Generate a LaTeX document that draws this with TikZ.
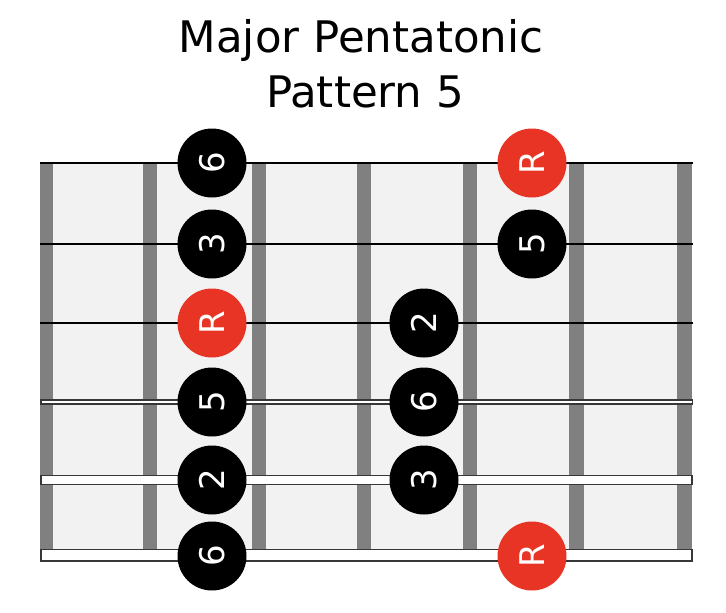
\documentclass[tikz,border=0pt]{standalone}
\usepackage{fontspec}
\setmainfont{DejaVu Sans}
\definecolor{rootred}{RGB}{232,52,36}
\definecolor{board}{RGB}{242,242,242}
\definecolor{fretgray}{RGB}{128,128,128}
\definecolor{strdark}{RGB}{55,55,55}
\begin{document}
\begin{tikzpicture}[x=1pt,y=-1pt,
  note/.style={circle, fill=black, minimum size=69pt, inner sep=0pt, text=white,
    font=\fontsize{34}{34}\selectfont, rotate=90},
  root/.style={note, fill=rootred},
  titletext/.style={anchor=base, inner sep=0pt, font=\fontsize{43.5}{43.5}\selectfont},
  thinstring/.style={line width=2pt, black},
  fretbar/.style={fill=fretgray}]
\useasboundingbox (0,0) rectangle (726,613);
% title
\node[titletext] (t1) at (361,52) {Major Pentatonic};
\node[titletext] (t2) at (365,107) {Pattern 5};
% board
\fill[board] (40,163) rectangle (692,555);
\foreach \a/\b in {40/53,143/157,252/266,357/371,463/477,569/584,677/692}
  \fill[fretbar] (\a,163) rectangle (\b,555);
% strings
\draw[thinstring] (40,163) -- (693,163);
\draw[thinstring] (40,244) -- (693,244);
\draw[thinstring] (40,323) -- (693,323);
\draw[strdark, line width=5.5pt] (40,402) -- (693,402);
\draw[white, line width=2pt] (41.5,402) -- (691.5,402);
\filldraw[fill=white, draw=strdark, line width=1.6pt] (40.8,475.5) rectangle (692.2,484.5);
\filldraw[fill=white, draw=strdark, line width=1.8pt] (40.9,549.5) rectangle (692.1,561);
% notes
\node[note] (a1) at (212,163) {6};
\node[note] (a2) at (212,244) {3};
\node[root] (a3) at (212,323) {R};
\node[note] (a4) at (212,402) {5};
\node[note] (a5) at (212,480) {2};
\node[note] (a6) at (212,556) {6};
\node[note] (b3) at (424,323) {2};
\node[note] (b4) at (424,402) {6};
\node[note] (b5) at (424,480) {3};
\node[root] (c1) at (532,163) {R};
\node[note] (c2) at (532,244) {5};
\node[root] (c6) at (532,556) {R};
\end{tikzpicture}
\end{document}
